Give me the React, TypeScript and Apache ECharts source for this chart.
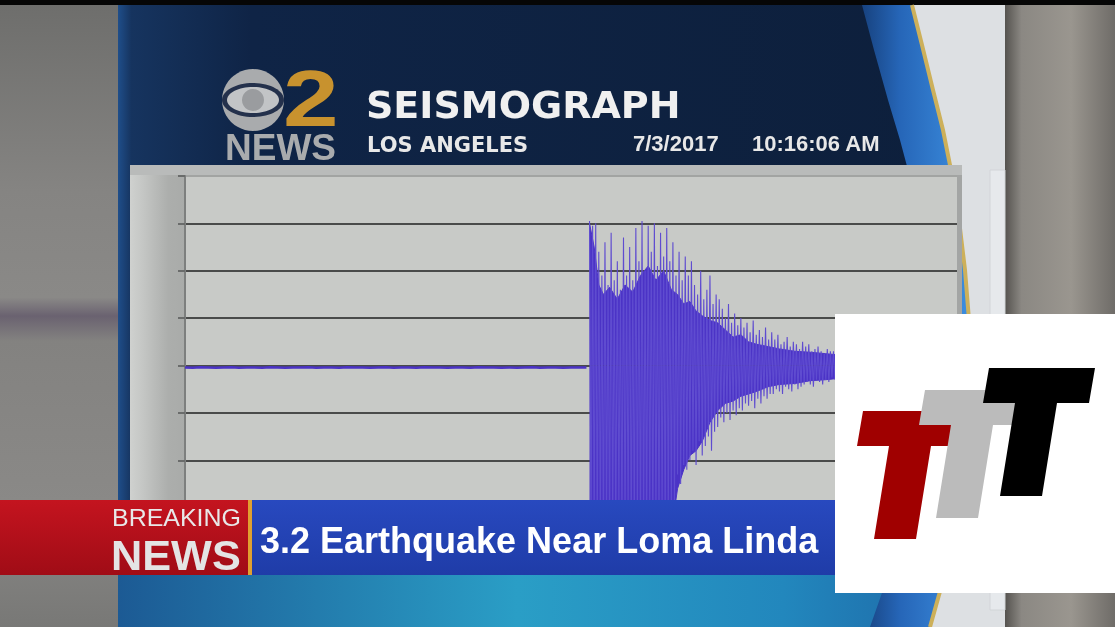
import React, { useEffect, useRef } from "react";
import * as echarts from "echarts";

// ---- data ----
const yMin = -4;
const yMax = 4;
const yInterval = 1;
const xMin = 0;
const xMax = 100;

// quiet trace before the event (one sample per unit of time)
const preEventStep = 1;
const preEvent = [
  -0.04, -0.045, -0.035, -0.04, -0.045, -0.04, -0.035, -0.045, -0.04, -0.04,
  -0.045, -0.035, -0.04, -0.045, -0.04, -0.04, -0.035, -0.045, -0.04, -0.04,
  -0.045, -0.035, -0.04, -0.04, -0.045, -0.04, -0.035, -0.045, -0.04, -0.04,
  -0.045, -0.035, -0.04, -0.04, -0.045, -0.04, -0.04, -0.045, -0.035, -0.04,
  -0.04, -0.045, -0.04, -0.045, -0.04, -0.035, -0.045, -0.04, -0.04, -0.045,
  -0.04, -0.04, -0.04,
];

// earthquake trace (spikes)
const eventStart = 52.4;
const eventStep = 0.2;
const onset = [3.05, -3.7, 2.95, -3.6, 3.0, -3.5, 2.4];
const strongA = [
  -3.4, 1.9, -3.6, 2.6, -3.2, 1.7, -3.5, 2.8, -3.3, 1.8, -3.6, 2.2, -3.0, 1.6,
  -3.5, 2.7, -3.4, 1.9, -3.2, 2.5, -3.6, 1.8,
];
const strongB = [
  -3.5, 2.9, -3.3, 2.2, -3.6, 3.05, -3.4, 2.0, -3.5, 2.95, -3.2, 2.4, -3.6, 3.0,
  -3.3, 2.1, -3.5, 2.8, -3.1, 2.3, -3.4, 2.9,
];
const decay1 = [-3.2, 2.2, -3.0, 2.6, -2.9, 1.9, -2.3, 2.4, -2.5, 1.8, -2.1, 2.3, -2.2];
const decay2 = [
  1.9, -2.0, 2.2, -1.8, 1.7, -2.1, 1.5, -1.6, 2.0, -1.9, 1.4, -1.7, 1.6, -1.5,
  1.9, -1.8, 1.3, -1.4, 1.5,
];
const decay3 = [-1.3, 1.4, -1.1, 1.2, -1.2, 1.0, -1.0, 1.3, -1.15, 0.9, -0.95, 1.1, -1.05, 0.85, -0.9, 1.0];
const decay4 = [
  -0.95, 0.8, -0.8, 0.9, -0.85, 0.7, -0.75, 0.95, -0.9, 0.65, -0.7, 0.75, -0.8,
  0.6, -0.65, 0.8, -0.7, 0.55, -0.6, 0.7,
];
const decay5 = [
  -0.6, 0.55, -0.5, 0.65, -0.55, 0.45, -0.6, 0.5, -0.45, 0.6, -0.5, 0.4, -0.55,
  0.5, -0.4, 0.45, -0.5, 0.35, -0.45, 0.5,
];
const tail = [
  -0.4, 0.4, -0.35, 0.45, -0.4, 0.3, -0.45, 0.35, -0.3, 0.4, -0.35, 0.3, -0.4,
  0.25, -0.3, 0.35, -0.35, 0.3, -0.25, 0.3, -0.3, 0.25, -0.3, 0.3, -0.25, 0.2,
  -0.3, 0.25, -0.2, 0.2,
];

// solid core of the record (envelope of the dense part)
const coreTimes = [
  52.4, 53, 53.6, 54.2, 55, 56, 57, 58, 59, 60, 61, 62, 63, 63.8, 64.6, 65.4,
  66.2, 67, 68, 69, 70, 71, 72, 73, 74, 75.5, 77, 79, 81, 83, 86,
];
const coreUpper = [
  3.0, 2.5, 1.7, 1.5, 1.65, 1.4, 1.7, 1.55, 1.9, 2.1, 1.8, 2.0, 1.6, 1.5, 1.3,
  1.35, 1.15, 1.05, 0.95, 0.9, 0.75, 0.6, 0.65, 0.5, 0.45, 0.4, 0.35, 0.3, 0.28,
  0.25, 0.2,
];
const coreLower = [
  -3.8, -3.8, -3.8, -3.8, -3.8, -3.8, -3.8, -3.8, -3.8, -3.8, -3.8, -3.8, -3.5,
  -2.6, -2.2, -1.9, -1.8, -1.6, -1.2, -0.95, -0.8, -0.75, -0.65, -0.6, -0.55,
  -0.45, -0.4, -0.38, -0.32, -0.3, -0.25,
];

const titleText = "SEISMOGRAPH";
const cityText = "LOS ANGELES";
const dateText = "7/3/2017";
const timeText = "10:16:06 AM";
const stationNumber = "2";
const stationWord = "NEWS";
const bannerTop = "BREAKING";
const bannerBottom = "NEWS";
const headline = "3.2 Earthquake Near Loma Linda";

const TRACE = "#4b33c6";
const SPIKE = "#5f4cd0";

function lg(x: number, y: number, x2: number, y2: number, stops: [number, string][]) {
  return new echarts.graphic.LinearGradient(
    x, y, x2, y2,
    stops.map(([offset, color]) => ({ offset, color }))
  );
}

const TXT = (x: number, y: number, text: string, fill: string, font: string, z = -2, extra: any = {}) => ({
  type: "text", z, x, y, ...extra,
  style: {
    text, fill, font,
    textAlign: "left", textVerticalAlign: "middle", align: "left", verticalAlign: "middle",
  },
});

export default function App() {
  const ref = useRef<HTMLDivElement>(null);

  useEffect(() => {
    if (!ref.current) return;
    const chart = echarts.init(ref.current, undefined, { renderer: "svg" });

    const eventValues = [
      ...onset, ...strongA, ...strongB, ...decay1, ...decay2,
      ...decay3, ...decay4, ...decay5, ...tail,
    ];
    const preData = preEvent.map((v, i) => [xMin + i * preEventStep, v]);
    const eventData = eventValues.map((v, i) => [
      +(eventStart + i * eventStep).toFixed(2),
      v,
    ]);
    const coreLowData = coreTimes.map((t, i) => [t, coreLower[i]]);
    const coreHighData = coreTimes.map((t, i) => [t, coreUpper[i]]);

    const goldCurve = [
      [912, 5], [922, 45], [933, 90], [943, 130], [951, 170], [959, 220],
      [965, 270], [969, 320], [971, 370], [970, 420], [966, 470], [958, 520],
      [946, 570], [930, 627],
    ];
    const blueLeft = [
      [862, 5], [874, 50], [888, 100], [900, 140], [908, 170], [916, 220],
      [922, 270], [925, 320], [926, 370], [923, 420], [917, 470], [905, 520],
      [890, 570], [870, 627],
    ];

    const tBase = [
      [989, 368], [1095, 368], [1089, 403], [1057, 403], [1042, 496],
      [1000, 496], [1015, 403], [983, 403],
    ];
    const shift = (dx: number, dy: number) => tBase.map(([x, y]) => [x + dx, y + dy]);

    const elements: any[] = [
      // backgrounds
      { type: "rect", z: -20, shape: { x: 0, y: 0, width: 1115, height: 627 }, style: { fill: "#7c7b79" } },
      {
        type: "rect", z: -19, shape: { x: 0, y: 5, width: 118, height: 622 },
        style: {
          fill: lg(0, 0, 0, 1, [
            [0, "#6e6e6c"], [0.3, "#858482"], [0.47, "#8a8987"], [0.5, "#6a6270"],
            [0.54, "#838280"], [0.8, "#8a8987"], [1, "#787876"],
          ]),
        },
      },
      {
        type: "rect", z: -19, shape: { x: 1005, y: 5, width: 110, height: 622 },
        style: { fill: lg(0, 0, 1, 0, [[0, "#55534f"], [0.15, "#8b8883"], [0.6, "#9a968f"], [1, "#6f6c68"]]) },
      },
      { type: "rect", z: -18, shape: { x: 0, y: 0, width: 1115, height: 5 }, style: { fill: "#060606" } },
      {
        type: "rect", z: -18, shape: { x: 118, y: 5, width: 887, height: 622 },
        style: { fill: lg(0, 0, 1, 0, [[0, "#1f4e8a"], [0.015, "#16345f"], [0.15, "#0f2446"], [1, "#0d1f3b"]]) },
      },
      {
        type: "rect", z: -17, shape: { x: 118, y: 560, width: 887, height: 67 },
        style: { fill: lg(0, 0, 1, 0, [[0, "#1c5a94"], [0.45, "#2a9ec6"], [0.75, "#2287bd"], [1, "#1d5fa0"]]) },
      },
      {
        type: "polygon", z: -16,
        shape: { points: [...blueLeft, ...goldCurve.slice().reverse()] },
        style: { fill: lg(0, 0, 1, 0, [[0, "#17427f"], [0.35, "#2666b8"], [1, "#3d8fe0"]]) },
      },
      {
        type: "polygon", z: -15,
        shape: { points: [...goldCurve, [1005, 627], [1005, 5]] },
        style: { fill: "#dde0e3" },
      },
      {
        type: "polyline", z: -14, shape: { points: goldCurve },
        style: { stroke: "#cdb05a", lineWidth: 4, fill: "none" },
      },
      {
        type: "rect", z: -14, shape: { x: 990, y: 170, width: 15, height: 440 },
        style: { fill: "#e6e9ec", stroke: "#d2d5d8", lineWidth: 1 },
      },
      // chart panel
      {
        type: "rect", z: -10, shape: { x: 130, y: 165, width: 832, height: 400 },
        style: { fill: "#b9bbba" },
      },
      {
        type: "rect", z: -9, shape: { x: 955, y: 175, width: 7, height: 390 },
        style: { fill: "#a3a5a4" },
      },
      {
        type: "rect", z: -9, shape: { x: 130, y: 175, width: 55, height: 390 },
        style: { fill: lg(0, 0, 1, 0, [[0, "#cfd1cf"], [0.2, "#c6c8c6"], [0.7, "#acaeac"], [1, "#a9aba9"]]) },
      },
      // CBS logo
      { type: "circle", z: -5, shape: { cx: 253, cy: 100, r: 31 }, style: { fill: "#a9abad" } },
      { type: "ellipse", z: -4, shape: { cx: 253, cy: 100, rx: 31, ry: 17 }, style: { fill: "#24314c" } },
      { type: "ellipse", z: -3, shape: { cx: 253, cy: 100, rx: 26, ry: 13 }, style: { fill: "#c2c4c6" } },
      { type: "circle", z: -2, shape: { cx: 253, cy: 100, r: 11 }, style: { fill: "#9a9c9f" } },
      TXT(283, 98, stationNumber, "#c8922e", 'bold 80px "Liberation Sans"', -2, { scaleX: 1.25, originX: 0, originY: 0 }),
      TXT(225, 147, stationWord, "#a9abad", 'bold 37px "Liberation Sans"'),
      // header texts
      TXT(366, 105, titleText, "#f0f0f0", 'bold 38px "DejaVu Sans"'),
      TXT(367, 145, cityText, "#e8e8e8", 'bold 21px "DejaVu Sans"'),
      TXT(633, 143, dateText, "#e8e8e8", 'bold 22px "Liberation Sans"'),
      TXT(752, 143, timeText, "#e8e8e8", 'bold 22px "Liberation Sans"'),
      // breaking news banner
      {
        type: "rect", z: 50, shape: { x: 0, y: 500, width: 250, height: 75 },
        style: { fill: lg(0, 0, 0, 1, [[0, "#c4141f"], [1, "#a00c16"]]) },
      },
      { type: "rect", z: 51, shape: { x: 248, y: 500, width: 4, height: 75 }, style: { fill: "#e0a030" } },
      {
        type: "rect", z: 50, shape: { x: 252, y: 500, width: 583, height: 75 },
        style: { fill: lg(0, 0, 0, 1, [[0, "#2849bf"], [1, "#1f3ca8"]]) },
      },
      TXT(112, 518, bannerTop, "#e8e8e8", '24px "Liberation Sans"', 52, { scaleX: 1.04, originX: 0, originY: 0 }),
      TXT(111, 555, bannerBottom, "#e4e4e4", 'bold 42px "Liberation Sans"', 52, { scaleX: 1.03, originX: 0, originY: 0 }),
      TXT(260, 540, headline, "#ffffff", 'bold 36px "Liberation Sans"', 52),
      // TTT logo
      { type: "rect", z: 60, shape: { x: 835, y: 314, width: 280, height: 279 }, style: { fill: "#ffffff" } },
      { type: "polygon", z: 61, shape: { points: shift(-126, 43) }, style: { fill: "#a00000" } },
      { type: "polygon", z: 62, shape: { points: shift(-64, 22) }, style: { fill: "#bbbbbb" } },
      { type: "polygon", z: 63, shape: { points: tBase }, style: { fill: "#000000" } },
    ];

    chart.setOption({
      animation: false,
      grid: {
        left: 185, right: 158, top: 176, bottom: 72,
        show: true, backgroundColor: "#c8cac7", borderWidth: 0,
      },
      xAxis: {
        type: "value", min: xMin, max: xMax,
        axisLine: { show: false }, axisTick: { show: false },
        axisLabel: { show: false }, splitLine: { show: false },
      },
      yAxis: {
        type: "value", min: yMin, max: yMax, interval: yInterval,
        axisLine: { show: true, lineStyle: { color: "#7d7f7e", width: 2 } },
        axisTick: { show: true, length: 7, lineStyle: { color: "#6a6c6b", width: 2 } },
        axisLabel: { show: false },
        splitLine: {
          show: true,
          lineStyle: {
            width: 2,
            color: ["#4a4b4a", "#4a4b4a", "#4a4b4a", "#4a4b4a", "#4a4b4a", "#4a4b4a", "#4a4b4a", "#4a4b4a", "#a2a4a2"],
          },
        },
      },
      series: [
        {
          type: "line", data: preData, showSymbol: false, symbol: "none",
          lineStyle: { color: TRACE, width: 2.5 }, z: 3,
        },
        {
          type: "line", data: coreLowData, showSymbol: false, symbol: "none",
          lineStyle: { color: TRACE, width: 1 }, areaStyle: { color: TRACE, opacity: 1, origin: 0 }, z: 3,
        },
        {
          type: "line", data: coreHighData, showSymbol: false, symbol: "none",
          lineStyle: { color: TRACE, width: 1 }, areaStyle: { color: TRACE, opacity: 1, origin: 0 }, z: 3,
        },
        {
          type: "line", data: eventData, showSymbol: false, symbol: "none",
          lineStyle: { color: SPIKE, width: 1.1 }, z: 4,
        },
      ],
      graphic: { elements },
    });

    return () => chart.dispose();
  }, []);

  return (
    <div
      ref={ref}
      style={{ position: "fixed", left: 0, top: 0, width: 1115, height: 627 }}
    />
  );
}
